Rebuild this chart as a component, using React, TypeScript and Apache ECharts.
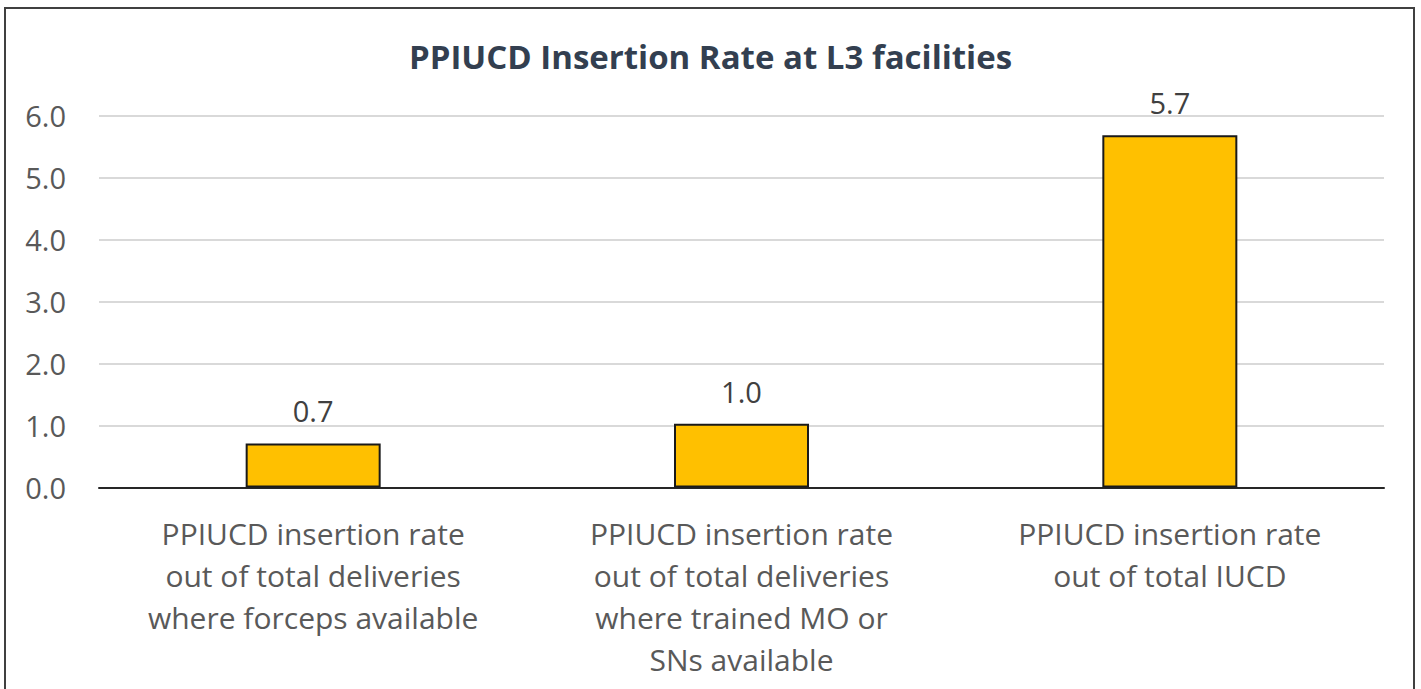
import React, { useEffect, useRef } from "react";
import * as echarts from "echarts";

const categories = [
  "PPIUCD insertion rate\nout of total deliveries\nwhere forceps available",
  "PPIUCD insertion rate\nout of total deliveries\nwhere trained MO or\nSNs available",
  "PPIUCD insertion rate\nout of total IUCD",
];
const values = [0.71, 1.03, 5.68];
const yTicks = { min: 0, max: 6, interval: 1 };
const title = "PPIUCD Insertion Rate at L3 facilities";

const FONT = "Open Sans";

export default function App() {
  const ref = useRef<HTMLDivElement>(null);
  useEffect(() => {
    if (!ref.current) return;
    const chart = echarts.init(ref.current, undefined, { renderer: "svg" });
    chart.setOption({
      animation: false,
      backgroundColor: "#ffffff",
      textStyle: { fontFamily: FONT },
      title: {
        text: title,
        left: "center",
        top: 35,
        textStyle: { fontFamily: FONT, fontSize: 33, fontWeight: "bold", color: "#333F50" },
      },
      graphic: [
        {
          type: "rect",
          shape: { x: 5, y: 8, width: 1409, height: 700 },
          style: { fill: "none", stroke: "#404040", lineWidth: 2 },
          silent: true,
        },
      ],
      grid: { left: 99, right: 37, top: 115.5, bottom: 201.5 },
      xAxis: {
        type: "category",
        data: categories,
        axisTick: { show: false },
        axisLine: { show: true, lineStyle: { color: "#262626", width: 2 } },
        axisLabel: {
          interval: 0,
          margin: 25,
          fontFamily: FONT,
          fontSize: 30,
          lineHeight: 42,
          color: "#595959",
          align: "center",
        },
      },
      yAxis: {
        type: "value",
        min: yTicks.min,
        max: yTicks.max,
        interval: yTicks.interval,
        axisLine: { show: false },
        axisTick: { show: false },
        splitLine: { lineStyle: { color: "#D9D9D9", width: 2 } },
        axisLabel: {
          formatter: (v: number) => v.toFixed(1),
          fontFamily: FONT,
          fontSize: 29,
          color: "#595959",
          margin: 33,
        },
      },
      series: [
        {
          type: "bar",
          data: values,
          barWidth: 135,
          itemStyle: { color: "#FFC000", borderColor: "#1a1a1a", borderWidth: 2 },
          label: {
            show: true,
            position: "top",
            distance: 18,
            formatter: (p: any) => Number(p.value).toFixed(1),
            fontFamily: FONT,
            fontSize: 29,
            color: "#404040",
          },
        },
      ],
    });
    return () => chart.dispose();
  }, []);
  return (
    <div
      ref={ref}
      style={{ position: "absolute", left: 0, top: 0, width: 1421, height: 689 }}
    />
  );
}
